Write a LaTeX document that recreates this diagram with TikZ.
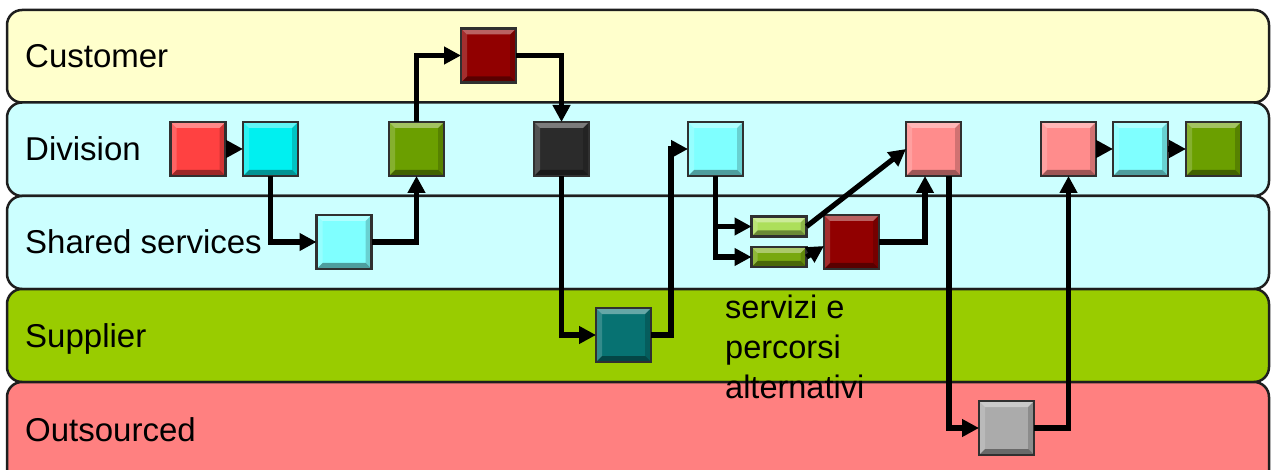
\documentclass[tikz,border=0pt]{standalone}
\usepackage{fontspec}
\setmainfont{Liberation Sans}
\usetikzlibrary{arrows.meta}

% lane fills
\definecolor{laneCust}{HTML}{FFFFCC}
\definecolor{laneDiv}{HTML}{CCFFFF}
\definecolor{laneSup}{HTML}{99CC00}
\definecolor{laneOut}{HTML}{FF8080}
\definecolor{laneLine}{HTML}{1E1E1E}
% activity fills
\definecolor{cRed}{HTML}{FF4141}
\definecolor{cCyan}{HTML}{00F0F0}
\definecolor{cLCyan}{HTML}{7FFFFF}
\definecolor{cOlive}{HTML}{6B9F00}
\definecolor{cDRed}{HTML}{910000}
\definecolor{cBlack}{HTML}{2B2B2B}
\definecolor{cTeal}{HTML}{077272}
\definecolor{cPink}{HTML}{FF8C8C}
\definecolor{cGrey}{HTML}{ABABAB}
\definecolor{cLime}{HTML}{ADDF5A}
\definecolor{cGreen}{HTML}{78A80F}
\definecolor{boxLine}{HTML}{303030}

\def\bv{6pt}

\begin{document}
\begin{tikzpicture}[x=1pt,y=-1pt,
  lane/.style={draw=laneLine, line width=2.5pt, rounded corners=15pt},
  lanelabel/.style={anchor=base west, inner sep=0pt, font=\fontsize{33}{40}\selectfont},
  note/.style={anchor=north west, inner sep=0pt, align=left, font=\fontsize{32.5}{40}\selectfont},
  blk/.style={rectangle, draw=boxLine, line width=2.2pt, inner sep=0pt, outer sep=0pt,
    minimum width=55pt, minimum height=54pt, fill=#1,
    path picture={
      \path (path picture bounding box.north west) coordinate (pA)
            (path picture bounding box.north east) coordinate (pB)
            (path picture bounding box.south east) coordinate (pC)
            (path picture bounding box.south west) coordinate (pD);
      \fill[white, opacity=.38] (pA) -- (pB) -- ([shift={(-\bv,-\bv)}]pB) -- ([shift={(\bv,-\bv)}]pA) -- cycle;
      \fill[white, opacity=.18] (pA) -- (pD) -- ([shift={(\bv,\bv)}]pD) -- ([shift={(\bv,-\bv)}]pA) -- cycle;
      \fill[black, opacity=.18] (pB) -- (pC) -- ([shift={(-\bv,\bv)}]pC) -- ([shift={(-\bv,-\bv)}]pB) -- cycle;
      \fill[black, opacity=.38] (pD) -- (pC) -- ([shift={(-\bv,\bv)}]pC) -- ([shift={(\bv,\bv)}]pD) -- cycle;
    }},
  slim/.style={blk=#1, minimum height=20pt},
  flow/.style={draw=black, line width=5.2pt, -{Triangle[length=17pt,width=17pt]}}
]
\useasboundingbox (0,0) rectangle (1271,470);
\clip (0,0) rectangle (1271,470);

% swimlanes
\path[lane, fill=laneCust] (7,10)    rectangle (1269,102.5);
\path[lane, fill=laneDiv]  (7,102.5) rectangle (1269,196);
\path[lane, fill=laneDiv]  (7,196)   rectangle (1269,289);
\path[lane, fill=laneSup]  (7,289)   rectangle (1269,382);
\path[lane, fill=laneOut]  (7,382)   rectangle (1269,490);

\node[lanelabel] (lCust) at (25,68)  {Customer};
\node[lanelabel] (lDiv)  at (25,161) {Division};
\node[lanelabel] (lShr)  at (25,254) {Shared services};
\node[lanelabel] (lSup)  at (25,347) {Supplier};
\node[lanelabel] (lOut)  at (25,441) {Outsourced};

% activities
\node[blk=cRed]    (a1) at (198,149)    {};
\node[blk=cCyan]   (a2) at (270.5,149)  {};
\node[blk=cLCyan]  (s1) at (344,242)    {};
\node[blk=cOlive]  (a3) at (416.5,149)  {};
\node[blk=cDRed]   (u1) at (488.5,55.5) {};
\node[blk=cBlack]  (a4) at (561.5,149)  {};
\node[blk=cTeal]   (p1) at (623.5,335)  {};
\node[blk=cLCyan]  (a5) at (715.5,149)  {};
\node[slim=cLime]  (s2) at (779,226.5)  {};
\node[slim=cGreen] (s3) at (779,257)    {};
\node[blk=cDRed]   (s4) at (851.5,242)  {};
\node[blk=cPink]   (a6) at (933.5,149)  {};
\node[blk=cGrey]   (o1) at (1006.5,428) {};
\node[blk=cPink]   (a7) at (1068.5,149) {};
\node[blk=cLCyan]  (a8) at (1140.5,149) {};
\node[blk=cOlive]  (a9) at (1213.5,149) {};

\node[note] (alt) at (725,295) {servizi e\\percorsi\\alternativi};

% flow
\draw[flow] (a1.east) -- (a2.west);
\draw[flow] (a2.south) |- (s1.west);
\draw[flow] (s1.east) -| (a3.south);
\draw[flow] (a3.north) |- (u1.west);
\draw[flow] (u1.east) -| (a4.north);
\draw[flow] (a4.south) |- (p1.west);
\draw[flow] (p1.east) -- ++(20,0) |- (a5.west);
\draw[flow] (a5.south) |- (s2.west);
\draw[flow] (a5.south) |- (s3.west);
\draw[flow] (s2.east) -- (a6.west);
\draw[flow] (s3.east) -- ([yshift=-4pt]s4.west);
\draw[flow] (s4.east) -| ([xshift=-8.5pt]a6.south);
\draw[flow] ([xshift=15.5pt]a6.south) |- (o1.west);
\draw[flow] (o1.east) -| (a7.south);
\draw[flow] (a7.east) -- (a8.west);
\draw[flow] (a8.east) -- (a9.west);
\end{tikzpicture}
\end{document}
